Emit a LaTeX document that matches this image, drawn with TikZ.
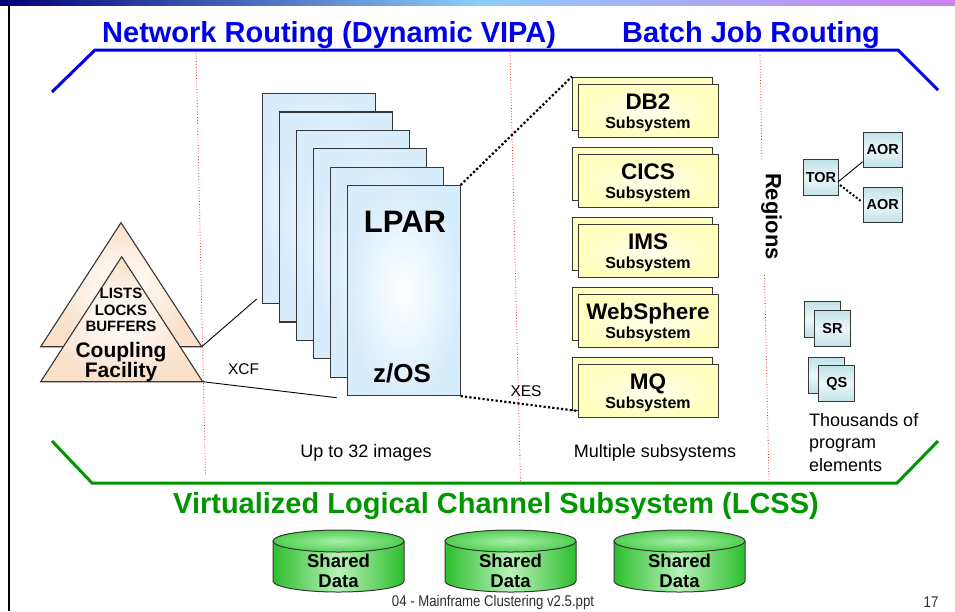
\documentclass[tikz,border=0pt]{standalone}
\usepackage{fontspec}
\setmainfont{Liberation Sans}
\newfontfamily\narrowfont[FakeStretch=0.85]{Liberation Sans}
\usetikzlibrary{calc}
\definecolor{tblue}{RGB}{0,0,235}
\definecolor{tgreen}{RGB}{0,150,0}
\definecolor{sheetblue}{RGB}{216,237,252}
\definecolor{peach}{RGB}{250,224,200}
\definecolor{pyellow}{RGB}{255,255,190}
\definecolor{boxin}{RGB}{255,255,238}
\definecolor{teal1}{RGB}{192,226,231}
\definecolor{teal2}{RGB}{236,247,248}
\definecolor{cgreen}{RGB}{45,190,45}
\definecolor{cgreenlt}{RGB}{185,242,185}
\definecolor{ctop}{RGB}{80,208,80}
\definecolor{ctoplt}{RGB}{170,238,170}
\definecolor{edge}{RGB}{55,55,55}
\definecolor{reddot}{RGB}{235,40,40}
\definecolor{navy}{RGB}{0,0,120}
\definecolor{skyb}{RGB}{140,205,250}
\definecolor{lilac}{RGB}{205,130,240}
\definecolor{foot}{RGB}{45,45,45}
\tikzset{
  sheet/.style={draw=edge, line width=1.1pt, inner color=white, outer color=sheetblue,
    minimum width=113pt, minimum height=210pt, anchor=north west, inner sep=0pt},
  subbox/.style={draw=edge, line width=1pt, inner color=boxin, outer color=pyellow,
    minimum width=140pt, minimum height=53pt, anchor=north west, inner sep=0pt},
  smallbox/.style={draw=edge, line width=1pt, top color=teal1, bottom color=teal1, middle color=teal2,
    minimum height=36pt, anchor=north west, inner sep=0pt},
  tri/.style={draw=edge, line width=1.1pt, inner color=white, outer color=peach},
  bigtitle/.style={inner sep=0pt, anchor=base west, font=\fontsize{29}{34}\selectfont\bfseries},
  redline/.style={draw=reddot, line width=0.8pt, dotted},
  blackdots/.style={line width=2.2pt, dash pattern=on 2.2pt off 2.2pt},
  plain/.style={inner sep=0pt, font=\fontsize{18}{22}\selectfont},
  subname/.style={inner sep=0pt, anchor=base, font=\fontsize{22.5}{26}\selectfont\bfseries},
  subsys/.style={inner sep=0pt, anchor=base, font=\fontsize{16}{18}\selectfont\bfseries},
  smalltxt/.style={inner sep=0pt, font=\fontsize{14.5}{16}\selectfont\bfseries},
  tritxt/.style={inner sep=0pt, font=\fontsize{15}{16}\selectfont\bfseries},
  cftxt/.style={inner sep=0pt, font=\fontsize{21}{22}\selectfont\bfseries},
  linklbl/.style={inner sep=0pt, font=\fontsize{15.5}{17}\selectfont},
  cyltxt/.style={inner sep=0pt, font=\fontsize{18.5}{20}\selectfont\bfseries},
}
\begin{document}
\begin{tikzpicture}[x=1pt,y=-1pt]
\useasboundingbox (0,0) rectangle (955,611);
% top colour bar
\shade[left color=navy, right color=lilac, middle color=skyb] (0,0) rectangle (955,5);
% left border
\draw[line width=2pt] (8.5,5) -- (8.5,611);
% red dotted dividers
\draw[redline] (196,50) -- (205.5,475);
\draw[redline] (510,52) -- (520.5,482);
\draw[redline] (760,55) -- (762,160);
\draw[redline] (764.5,275) -- (769,481);
% blue and green frames
\draw[tblue, line width=3pt] (52,92) -- (95,50) -- (898,50) -- (938,90);
\draw[tgreen, line width=3pt] (52,441) -- (92,483) -- (897,483) -- (938,441);
% titles
\node[bigtitle, text=tblue] (t1) at (102,42) {Network Routing (Dynamic VIPA)};
\node[bigtitle, text=tblue] (t2) at (622,42) {Batch Job Routing};
\node[bigtitle, text=tgreen, anchor=base] (t3) at (496,513) {Virtualized Logical Channel Subsystem (LCSS)};
% coupling facility
\filldraw[tri] (121,222.7) -- (40.7,346.7) -- (201.7,346.7) -- cycle;
\filldraw[tri] (121.7,256.7) -- (40.7,381.7) -- (202.7,381.7) -- cycle;
\coordinate (cfa) at (201.7,346.7);
\coordinate (cfb) at (202.7,381.7);
\node[tritxt] (lists) at (121,293.3) {LISTS};
\node[tritxt] (locks) at (121,310) {LOCKS};
\node[tritxt] (buffers) at (121,326.7) {BUFFERS};
\node[cftxt] (coupling) at (121,351.7) {Coupling};
\node[cftxt] (facility) at (121,371.7) {Facility};
% LPAR sheets
\foreach \i in {0,...,5} {
  \node[sheet] (s\i) at ({262+16.9*\i},{93+18.4*\i}) {};
}
\node[inner sep=0pt, font=\fontsize{31}{34}\selectfont\bfseries] (lpar) at (405,222) {LPAR};
\node[inner sep=0pt, font=\fontsize{26}{28}\selectfont\bfseries] (zos) at (402,373) {z/OS};
% XCF links
\coordinate (xa) at (256.7,299);
\coordinate (xb) at (336.7,397.7);
\draw[line width=0.9pt] (cfa) -- (xa);
\draw[line width=0.9pt] (cfb) -- (xb);
\node[linklbl] (xcf) at (243.5,369) {XCF};
% subsystem boxes
\foreach \nm/\lab [count=\k from 0] in {db/DB2, cics/CICS, ims/IMS, ws/WebSphere, mq/MQ} {
  \node[subbox] (\nm b) at (572,{76.5+70*\k}) {};
  \node[subbox] (\nm f) at (578,{84+70*\k}) {};
  \node[subname] (\nm n) at (648,{109+70*\k}) {\lab};
  \node[subsys] (\nm s) at (648,{128.5+70*\k}) {Subsystem};
}
\coordinate (mqin) at ($(mqf.south west)!0.13!(mqf.north west)$);
\draw[blackdots] (s5.north east) -- (dbb.north west);
\draw[blackdots] (s5.south east) -- (mqin);
\node[linklbl] (xes) at (526,391.5) {XES};
% regions
\node[inner sep=0pt, rotate=-90, font=\fontsize{22}{24}\selectfont\bfseries] (regions) at (771.5,216.5) {Regions};
\node[smallbox, minimum width=35.6pt] (tor) at (802.7,159.3) {};
\node[smallbox, minimum width=39pt, minimum height=35.6pt] (aor1) at (862.7,131.7) {};
\node[smallbox, minimum width=39pt, minimum height=35pt] (aor2) at (862.7,186.7) {};
\node[smalltxt] (tort) at (tor.center) {TOR};
\node[smalltxt] (aor1t) at (aor1.center) {AOR};
\node[smalltxt] (aor2t) at (aor2.center) {AOR};
\coordinate (tora) at (838.3,181.7);
\coordinate (torb) at (840,185);
\coordinate (aora) at (862.7,161.7);
\coordinate (aorb) at (861.7,201.7);
\draw[line width=0.9pt] (tora) -- (aora);
\draw[line width=2pt, dash pattern=on 2pt off 2pt] (torb) -- (aorb);
\node[smallbox, minimum width=36pt] (srb) at (804.3,300.7) {};
\node[smallbox, minimum width=36pt] (srf) at (814,310) {};
\node[smalltxt] (srt) at (srf.center) {SR};
\node[smallbox, minimum width=36pt] (qsb) at (808.3,356.7) {};
\node[smallbox, minimum width=36pt] (qsf) at (818.3,365) {};
\node[smalltxt] (qst) at (qsf.center) {QS};
\node[plain, anchor=base west] (th1) at (809,426) {Thousands of};
\node[plain, anchor=base west] (th2) at (809,448.5) {program};
\node[plain, anchor=base west] (th3) at (809,471) {elements};
% bottom labels
\node[plain] (up32) at (366,453) {Up to 32 images};
\node[plain] (multi) at (655,453) {Multiple subsystems};
% cylinders
\foreach \cx/\n in {338.5/1, 510.5/2, 679.5/3} {
  \shade[left color=cgreen, right color=cgreen, middle color=cgreenlt]
    ({\cx-65.5},541) -- ({\cx-65.5},581) .. controls ({\cx-65.5},587.08) and ({\cx-36.18},592) .. (\cx,592)
    .. controls ({\cx+36.18},592) and ({\cx+65.5},587.08) .. ({\cx+65.5},581) -- ({\cx+65.5},541) -- cycle;
  \draw[edge, line width=1pt]
    ({\cx-65.5},541) -- ({\cx-65.5},581) .. controls ({\cx-65.5},587.08) and ({\cx-36.18},592) .. (\cx,592)
    .. controls ({\cx+36.18},592) and ({\cx+65.5},587.08) .. ({\cx+65.5},581) -- ({\cx+65.5},541);
  \filldraw[draw=edge, line width=1pt, inner color=ctoplt, outer color=ctop] (\cx,541) ellipse [x radius=65.5, y radius=11];
  \node[cyltxt] (sh\n) at (\cx,561) {Shared};
  \node[cyltxt] (da\n) at (\cx,581) {Data};
}
% footer
\node[inner sep=0pt, text=foot, font=\narrowfont\fontsize{15.5}{17}\selectfont] (footer) at (493,602) {04 - Mainframe Clustering v2.5.ppt};
\node[inner sep=0pt, text=foot, font=\narrowfont\fontsize{15.5}{17}\selectfont] (pageno) at (931,602) {17};
\end{tikzpicture}
\end{document}
